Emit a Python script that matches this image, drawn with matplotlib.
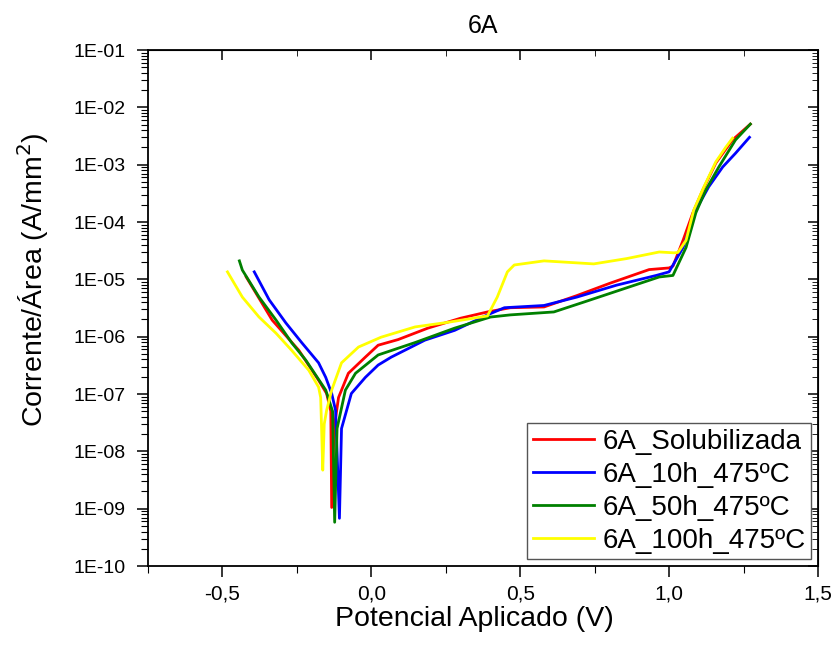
import matplotlib
matplotlib.use("Agg")
import matplotlib.pyplot as plt
import numpy as np
from matplotlib.ticker import FuncFormatter, LogLocator, MultipleLocator, NullFormatter

plt.rcParams['font.family'] = ['Liberation Sans', 'DejaVu Sans']

# 6A_Solubilizada
e_sol = [-0.42, -0.333, -0.243, -0.177, -0.15, -0.136, -0.133, -0.125, -0.11, -0.077,
         -0.02, 0.023, 0.09, 0.19, 0.3, 0.39, 0.467, 0.58, 0.69, 0.8, 0.933, 1.0,
         1.013, 1.047, 1.08, 1.113, 1.157, 1.213, 1.273]
i_sol = [1.1e-5, 1.95e-6, 5.75e-7, 1.74e-7, 1.02e-7, 5.0e-8, 1.05e-9, 2.5e-8, 8.7e-8, 2.3e-7,
         4.4e-7, 7.1e-7, 8.9e-7, 1.41e-6, 2.1e-6, 2.7e-6, 3.2e-6, 3.3e-6, 5.2e-6, 8.5e-6, 1.48e-5, 1.58e-5,
         1.7e-5, 4.8e-5, 1.45e-4, 3.6e-4, 1.07e-3, 2.7e-3, 5.1e-3]

# 6A_10h_475ºC
e_10h = [-0.393, -0.343, -0.287, -0.233, -0.177, -0.153, -0.133, -0.12, -0.107, -0.1,
         -0.067, -0.02, 0.023, 0.067, 0.18, 0.28, 0.39, 0.447, 0.58, 0.69, 0.823, 0.957,
         1.0, 1.047, 1.09, 1.133, 1.18, 1.223, 1.27]
i_10h = [1.35e-5, 4.4e-6, 1.74e-6, 7.8e-7, 3.5e-7, 1.95e-7, 1.02e-7, 5.2e-8, 6.8e-10, 2.5e-8,
         1.02e-7, 1.95e-7, 3.2e-7, 4.4e-7, 8.7e-7, 1.29e-6, 2.4e-6, 3.2e-6, 3.5e-6, 4.9e-6, 7.9e-6, 1.17e-5,
         1.35e-5, 3.6e-5, 1.62e-4, 4.1e-4, 9.1e-4, 1.58e-3, 3.0e-3]

# 6A_50h_475ºC
e_50h = [-0.443, -0.433, -0.377, -0.32, -0.267, -0.22, -0.153, -0.13, -0.123, -0.115,
         -0.087, -0.053, 0.023, 0.147, 0.28, 0.4, 0.467, 0.613, 0.713, 0.857, 0.967,
         1.013, 1.057, 1.09, 1.123, 1.167, 1.223, 1.273]
i_50h = [2.1e-5, 1.45e-5, 4.9e-6, 1.95e-6, 7.8e-7, 3.9e-7, 1.17e-7, 5.0e-8, 5.8e-10, 2.5e-8,
         1.17e-7, 2.3e-7, 4.8e-7, 7.9e-7, 1.41e-6, 2.2e-6, 2.4e-6, 2.7e-6, 4.0e-6, 7.1e-6, 1.1e-5,
         1.17e-5, 3.6e-5, 1.45e-4, 3.6e-4, 9.1e-4, 2.7e-3, 5.1e-3]

# 6A_100h_475ºC
e_100h = [-0.483, -0.433, -0.377, -0.32, -0.267, -0.21, -0.177, -0.17, -0.167, -0.163,
          -0.158, -0.15, -0.133, -0.1, -0.043, 0.033, 0.147, 0.257, 0.39, 0.423, 0.457,
          0.48, 0.58, 0.747, 0.857, 0.967, 1.017, 1.03, 1.057, 1.083, 1.117, 1.157, 1.19, 1.213]
i_100h = [1.35e-5, 4.9e-6, 2.2e-6, 1.15e-6, 5.75e-7, 2.6e-7, 1.32e-7, 8.7e-8, 2.6e-8, 4.7e-9,
          3.0e-8, 5.2e-8, 1.17e-7, 3.5e-7, 6.6e-7, 9.8e-7, 1.48e-6, 1.78e-6, 2.3e-6, 4.9e-6, 1.35e-5,
          1.78e-5, 2.1e-5, 1.86e-5, 2.3e-5, 3.0e-5, 2.9e-5, 2.95e-5, 4.8e-5, 1.62e-4, 4.1e-4, 1.12e-3, 2.0e-3, 2.9e-3]

series = [
    ("6A_Solubilizada", e_sol, i_sol, "#ff0000"),
    ("6A_10h_475ºC", e_10h, i_10h, "#0000ff"),
    ("6A_50h_475ºC", e_50h, i_50h, "#008000"),
    ("6A_100h_475ºC", e_100h, i_100h, "#ffff00"),
]

fig = plt.figure(figsize=(8.35, 6.46), dpi=100)
ax = fig.add_axes([0.1772, 0.1238, 0.8024, 0.7988])

for label, e, i, c in series:
    ax.plot(e, i, color=c, lw=2, label=label)

ax.set_yscale('log')
ax.set_xlim(-0.75, 1.5)
ax.set_ylim(1e-10, 1e-1)

ax.xaxis.set_major_locator(MultipleLocator(0.5))
ax.xaxis.set_minor_locator(MultipleLocator(0.25))
ax.xaxis.set_major_formatter(FuncFormatter(lambda v, p: f"{v:.1f}".replace('.', ',')))
ax.yaxis.set_major_locator(LogLocator(base=10, numticks=20))
ax.yaxis.set_minor_locator(LogLocator(base=10, subs=np.arange(2, 10), numticks=20))
ax.yaxis.set_minor_formatter(NullFormatter())
ax.yaxis.set_major_formatter(FuncFormatter(lambda v, p: f"1E-{int(round(-np.log10(v))):02d}"))

ax.tick_params(which='major', direction='out', length=8, width=1.1, labelsize=15, pad=5)
ax.tick_params(which='minor', direction='out', length=5, width=0.8)
ax.tick_params(axis='y', which='major', labelsize=14, pad=8)

# mirrored axes with inward ticks
sx = ax.secondary_xaxis('top')
sx.xaxis.set_major_locator(MultipleLocator(0.5))
sx.xaxis.set_minor_locator(MultipleLocator(0.25))
sx.tick_params(which='major', direction='in', length=7, width=1.1, labeltop=False)
sx.tick_params(which='minor', direction='in', length=4)
sy = ax.secondary_yaxis('right')
sy.yaxis.set_major_locator(LogLocator(base=10, numticks=20))
sy.yaxis.set_minor_locator(LogLocator(base=10, subs=np.arange(2, 10), numticks=20))
sy.tick_params(which='major', direction='in', length=7, width=1.1, labelright=False)
sy.tick_params(which='minor', direction='in', length=4, labelright=False)

for sp in ax.spines.values():
    sp.set_linewidth(1.3)

ax.set_xlabel('Potencial Aplicado (V)', fontsize=20.5)
ax.set_ylabel('Corrente/Área (A/mm$^2$)', fontsize=20.5)
ax.xaxis.set_label_coords(0.487, -0.078)
ax.yaxis.set_label_coords(-0.145, 0.554)
ax.set_title('6A', fontsize=18, pad=12)

leg = ax.legend(loc='lower right', fontsize=20, frameon=True, fancybox=False,
                edgecolor='#555555', framealpha=1, handlelength=2.2,
                handletextpad=0.3, labelspacing=0.25, borderpad=0.2, borderaxespad=0.25)
leg.get_frame().set_linewidth(1)

fig.savefig('out.png', dpi=100)
